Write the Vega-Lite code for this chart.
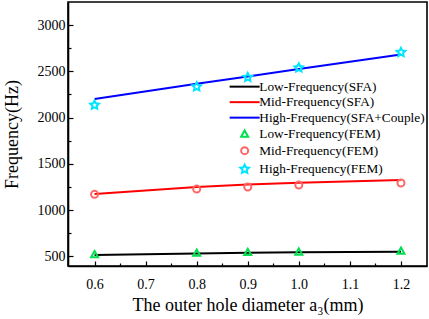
{
  "$schema": "https://vega.github.io/schema/vega-lite/v6.json",
  "width": 359,
  "height": 264,
  "autosize": "none",
  "padding": {"left": 68, "top": 2, "right": 2, "bottom": 53},
  "background": "white",
  "config": {
    "view": {"stroke": "black", "strokeWidth": 1.6},
    "font": "Liberation Serif",
    "axis": {
      "labelFont": "Liberation Serif",
      "titleFont": "Liberation Serif",
      "labelFontSize": 14,
      "titleFontSize": 18,
      "titleFontWeight": "normal",
      "labelColor": "black",
      "titleColor": "black",
      "domainColor": "black",
      "domainWidth": 1.6,
      "tickColor": "black",
      "tickWidth": 1.2,
      "grid": false
    },
    "legend": {
      "labelFont": "Liberation Serif",
      "labelFontSize": 13.3,
      "labelColor": "black",
      "labelLimit": 400
    }
  },
  "data": {
    "values": [
      {"x": 0.6, "f": 515, "series": "Low-Frequency(SFA)", "kind": "line"},
      {"x": 0.8, "f": 530, "series": "Low-Frequency(SFA)", "kind": "line"},
      {"x": 0.9, "f": 537, "series": "Low-Frequency(SFA)", "kind": "line"},
      {"x": 1.0, "f": 543, "series": "Low-Frequency(SFA)", "kind": "line"},
      {"x": 1.2, "f": 550, "series": "Low-Frequency(SFA)", "kind": "line"},
      {"x": 0.6, "f": 1173, "series": "Mid-Frequency(SFA)", "kind": "line"},
      {"x": 0.8, "f": 1250, "series": "Mid-Frequency(SFA)", "kind": "line"},
      {"x": 0.9, "f": 1276, "series": "Mid-Frequency(SFA)", "kind": "line"},
      {"x": 1.0, "f": 1296, "series": "Mid-Frequency(SFA)", "kind": "line"},
      {"x": 1.2, "f": 1324, "series": "Mid-Frequency(SFA)", "kind": "line"},
      {"x": 0.6, "f": 2200, "series": "High-Frequency(SFA+Couple)", "kind": "line"},
      {"x": 0.8, "f": 2365, "series": "High-Frequency(SFA+Couple)", "kind": "line"},
      {"x": 0.9, "f": 2445, "series": "High-Frequency(SFA+Couple)", "kind": "line"},
      {"x": 1.0, "f": 2525, "series": "High-Frequency(SFA+Couple)", "kind": "line"},
      {"x": 1.2, "f": 2683, "series": "High-Frequency(SFA+Couple)", "kind": "line"},
      {"x": 0.6, "f": 516, "series": "Low-Frequency(FEM)", "kind": "point"},
      {"x": 0.8, "f": 533, "series": "Low-Frequency(FEM)", "kind": "point"},
      {"x": 0.9, "f": 540, "series": "Low-Frequency(FEM)", "kind": "point"},
      {"x": 1.0, "f": 545, "series": "Low-Frequency(FEM)", "kind": "point"},
      {"x": 1.2, "f": 555, "series": "Low-Frequency(FEM)", "kind": "point"},
      {"x": 0.6, "f": 1170, "series": "Mid-Frequency(FEM)", "kind": "point"},
      {"x": 0.8, "f": 1227, "series": "Mid-Frequency(FEM)", "kind": "point"},
      {"x": 0.9, "f": 1249, "series": "Mid-Frequency(FEM)", "kind": "point"},
      {"x": 1.0, "f": 1270, "series": "Mid-Frequency(FEM)", "kind": "point"},
      {"x": 1.2, "f": 1292, "series": "Mid-Frequency(FEM)", "kind": "point"},
      {"x": 0.6, "f": 2135, "series": "High-Frequency(FEM)", "kind": "point"},
      {"x": 0.8, "f": 2334, "series": "High-Frequency(FEM)", "kind": "point"},
      {"x": 0.9, "f": 2435, "series": "High-Frequency(FEM)", "kind": "point"},
      {"x": 1.0, "f": 2538, "series": "High-Frequency(FEM)", "kind": "point"},
      {"x": 1.2, "f": 2705, "series": "High-Frequency(FEM)", "kind": "point"}
    ]
  },
  "encoding": {
    "x": {
      "field": "x", "type": "quantitative",
      "scale": {"domain": [0.548, 1.251], "nice": false, "zero": false},
      "axis": {
        "title": "The outer hole diameter a₃(mm)",
        "labelFont": "Liberation Serif",
        "labelFontSize": 14,
        "titleFont": "Liberation Serif",
        "values": [0.6, 0.65, 0.7, 0.75, 0.8, 0.85, 0.9, 0.95, 1.0, 1.05, 1.1, 1.15, 1.2],
        "labelExpr": "abs(datum.value*10 - round(datum.value*10)) < 0.01 ? format(datum.value, '.1f') : ''",
        "tickSize": {"condition": {"test": "abs(datum.value*10 - round(datum.value*10)) < 0.01", "value": -5}, "value": -3},
        "labelPadding": 16,
        "titlePadding": 5
      }
    },
    "y": {
      "field": "f", "type": "quantitative",
      "scale": {"domain": [395, 3250], "nice": false, "zero": false},
      "axis": {
        "title": "Frequency(Hz)",
        "labelFont": "Liberation Serif",
        "labelFontSize": 14,
        "titleFont": "Liberation Serif",
        "values": [500, 750, 1000, 1250, 1500, 1750, 2000, 2250, 2500, 2750, 3000],
        "labelExpr": "datum.value % 500 == 0 ? datum.value : ''",
        "tickSize": {"condition": {"test": "datum.value % 500 == 0", "value": -5}, "value": -3},
        "labelPadding": 8,
        "titlePadding": 16
      }
    },
    "color": {
      "field": "series", "type": "nominal",
      "scale": {
        "domain": ["Low-Frequency(SFA)", "Mid-Frequency(SFA)", "High-Frequency(SFA+Couple)", "Low-Frequency(FEM)", "Mid-Frequency(FEM)", "High-Frequency(FEM)"],
        "range": ["#000000", "#ff0000", "#0000ff", "#00e050", "#ff6666", "#00e5ff"]
      },
      "legend": {
        "title": null,
        "orient": "none",
        "legendX": 170,
        "legendY": 78,
        "labelOffset": 8,
        "rowPadding": 1.5,
        "symbolSize": 100,
        "padding": 0,
        "labelLimit": 400,
        "labelFont": "Liberation Serif",
        "labelFontSize": 13.3,
        "encode": {"symbols": {"update": {"fill": {"value": "transparent"}, "fillOpacity": {"value": 0}}}}
      }
    }
  },
  "layer": [
    {
      "transform": [{"filter": "datum.kind == 'line'"}],
      "mark": {"type": "line", "strokeWidth": 2},
      "encoding": {
        "shape": {"field": "series", "type": "nominal", "scale": {
          "domain": ["Low-Frequency(SFA)", "Mid-Frequency(SFA)", "High-Frequency(SFA+Couple)", "Low-Frequency(FEM)", "Mid-Frequency(FEM)", "High-Frequency(FEM)"],
          "range": ["M-3,0H3", "M-3,0H3", "M-3,0H3", "M0,-0.75L0.7,0.5L-0.7,0.5Z", "M0.7,0A0.7,0.7 0 1,1 -0.7,0A0.7,0.7 0 1,1 0.7,0Z", "M0,-0.9L0.26,-0.36L0.86,-0.28L0.42,0.14L0.53,0.73L0,0.45L-0.53,0.73L-0.42,0.14L-0.86,-0.28L-0.26,-0.36Z"]
        }},
        "strokeWidth": {"field": "series", "type": "nominal", "scale": {
          "domain": ["Low-Frequency(SFA)", "Mid-Frequency(SFA)", "High-Frequency(SFA+Couple)", "Low-Frequency(FEM)", "Mid-Frequency(FEM)", "High-Frequency(FEM)"],
          "range": [2, 2, 2, 1, 1, 1]
        }}
      }
    },
    {
      "transform": [{"filter": "datum.kind == 'point'"}],
      "mark": {"type": "point", "filled": false, "fill": "transparent", "fillOpacity": 0, "size": 100, "opacity": 1},
      "encoding": {
        "shape": {"field": "series", "type": "nominal"},
        "strokeWidth": {"field": "series", "type": "nominal"}
      }
    }
  ]
}
